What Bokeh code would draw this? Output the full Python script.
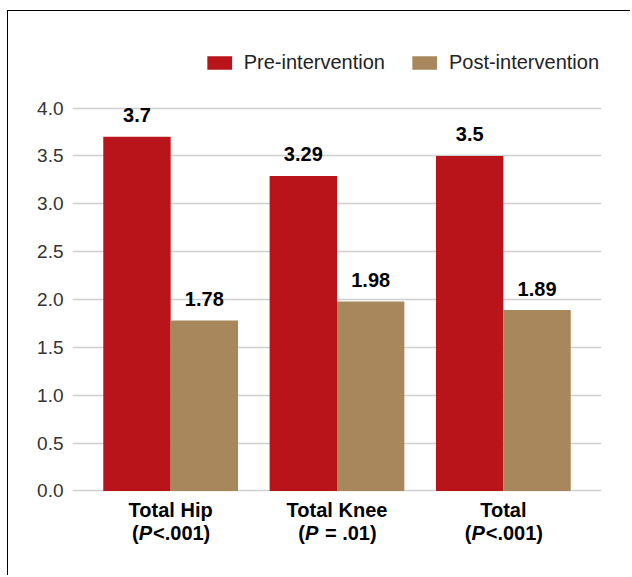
from bokeh.plotting import figure
from bokeh.models import (ColumnDataSource, FactorRange, Range1d, FixedTicker,
                          NumeralTickFormatter, Legend, LegendItem)
from bokeh.transform import dodge
from bokeh.core.properties import value
from bokeh.embed import file_html
from bokeh.resources import INLINE

# ---- data ----
categories = ["Total Hip", "Total Knee", "Total"]
p_prefix = ["(", "(", "("]
p_letter = ["P", "P", "P"]
p_rest = ["<.001)", "\u00a0=\u00a0.01)", "<.001)"]
pre_values = [3.7, 3.29, 3.5]
post_values = [1.78, 1.98, 1.89]
pre_labels = ["3.7", "3.29", "3.5"]
post_labels = ["1.78", "1.98", "1.89"]
series_names = ["Pre-intervention", "Post-intervention"]
y_ticks = [0.0, 0.5, 1.0, 1.5, 2.0, 2.5, 3.0, 3.5, 4.0]

# ---- style ----
RED = "#BA141B"
TAN = "#A8875C"
FONT = "Liberation Sans"
FS = "20px"
BAR_W = 0.405
DODGE = 0.2025

# approximate Arial-bold advance widths (em) for centering the mixed-style line
ADV = {"(": 0.333, ")": 0.333, "P": 0.667, "<": 0.584, "=": 0.584, " ": 0.278,
       "\u00a0": 0.278, ".": 0.278, "0": 0.556, "1": 0.556}
PX = 20.0


def tw(s):
    return sum(ADV.get(c, 0.556) for c in s) * PX


off_open, off_p, off_rest = [], [], []
for a, b, c in zip(p_prefix, p_letter, p_rest):
    total = tw(a) + tw(b) + tw(c)
    start = -total / 2.0
    off_open.append(start)
    off_p.append(start + tw(a))
    off_rest.append(start + tw(a) + tw(b) + 1)

src = ColumnDataSource(dict(cat=categories, pre=pre_values, post=post_values,
                            pre_lbl=pre_labels, post_lbl=post_labels,
                            p_open=p_prefix, p_letter=p_letter, p_rest=p_rest,
                            off_open=off_open, off_p=off_p, off_rest=off_rest))

p = figure(width=623, height=565,
           x_range=FactorRange(factors=categories, range_padding=0.06),
           y_range=Range1d(-0.893, 4.611),
           x_axis_location=None,
           output_backend="svg", toolbar_location=None,
           min_border_left=64, min_border_right=30,
           min_border_top=38, min_border_bottom=0,
           styles={"margin-left": "7px", "margin-top": "10px",
                   "border-left": "1.5px solid black",
                   "border-top": "1.5px solid black"})
p.outline_line_color = None
p.background_fill_color = "white"
p.border_fill_color = "white"
p.xgrid.grid_line_color = None

ax = p.yaxis[0]
ax.ticker = FixedTicker(ticks=y_ticks)
ax.formatter = NumeralTickFormatter(format="0.0")
ax.axis_line_color = None
ax.major_tick_line_color = None
ax.minor_tick_line_color = None
ax.major_tick_out = 0
ax.major_tick_in = 0
ax.minor_tick_out = 0
ax.major_label_standoff = 9
ax.major_label_text_font = FONT
ax.major_label_text_font_size = "19px"
ax.major_label_text_color = "#333333"

p.ygrid.grid_line_color = "#CFCFCF"
p.ygrid.grid_line_width = 1.5

r_pre = p.vbar(x=dodge("cat", -DODGE, range=p.x_range), top="pre", width=BAR_W,
               source=src, fill_color=RED, line_color=None)
r_post = p.vbar(x=dodge("cat", DODGE, range=p.x_range), top="post", width=BAR_W,
                source=src, fill_color=TAN, line_color=None)

common = dict(text_font=value(FONT), text_font_size=FS, text_color="black",
              text_baseline="alphabetic")
p.text(x=dodge("cat", -DODGE, range=p.x_range), y="pre", text="pre_lbl", source=src,
       text_align="center", y_offset=-21.5, text_font_style="bold", **common)
p.text(x=dodge("cat", DODGE, range=p.x_range), y="post", text="post_lbl", source=src,
       text_align="center", y_offset=-21.5, text_font_style="bold", **common)

# category labels (two lines, italic P)
p.text(x="cat", y=0, text="cat", source=src, text_align="center", y_offset=19,
       text_font_style="bold", **common)
p.text(x="cat", y=0, text="p_open", source=src, text_align="left", y_offset=42,
       x_offset="off_open", text_font_style="bold", **common)
p.text(x="cat", y=0, text="p_letter", source=src, text_align="left", y_offset=42,
       x_offset="off_p", text_font_style="bold italic", **common)
p.text(x="cat", y=0, text="p_rest", source=src, text_align="left", y_offset=42,
       x_offset="off_rest", text_font_style="bold", **common)

legend = Legend(items=[LegendItem(label=series_names[0], renderers=[r_pre]),
                       LegendItem(label=series_names[1], renderers=[r_post])],
                orientation="horizontal", location="top_right",
                glyph_width=31, glyph_height=17, label_standoff=9, spacing=24,
                padding=0, margin=2, border_line_color=None,
                background_fill_alpha=0,
                label_text_font=FONT, label_text_font_size="20px",
                label_text_color="#222222")
p.add_layout(legend)

open("out.html", "w").write(file_html(p, INLINE))
